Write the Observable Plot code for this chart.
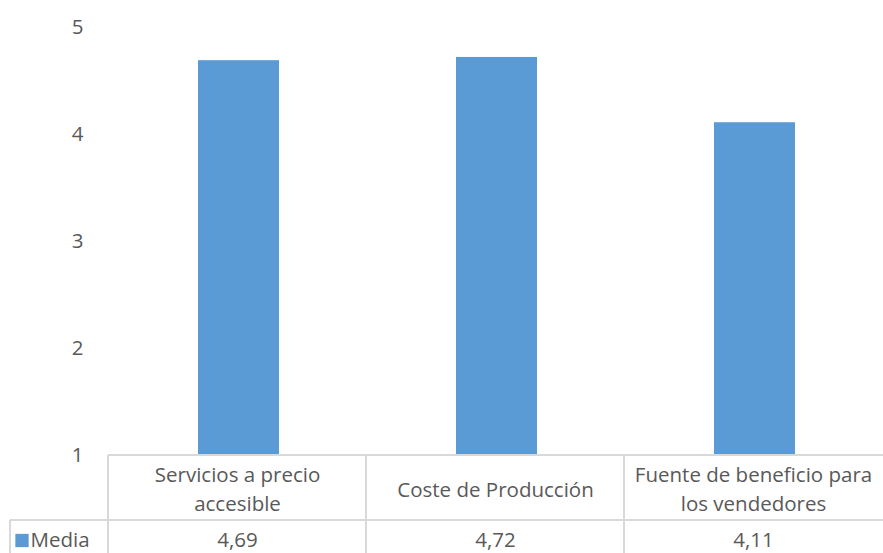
<!DOCTYPE html>
<html>
<head>
<meta charset="utf-8">
<script src="https://cdn.jsdelivr.net/npm/d3@7"></script>
<script src="https://cdn.jsdelivr.net/npm/@observablehq/plot@0.6"></script>
<style>
  html, body { margin: 0; padding: 0; background: #fff; overflow: hidden; }
</style>
</head>
<body>
<div id="chart"></div>
<script>
const categories = ["Servicios a precio accesible", "Coste de Producción", "Fuente de beneficio para los vendedores"];
const tableLabels = ["Servicios a precio\naccesible", "Coste de Producción", "Fuente de beneficio para\nlos vendedores"];
const media = [4.69, 4.72, 4.11];
const valueLabels = ["4,69", "4,72", "4,11"];
const yTicks = [1, 2, 3, 4, 5];
const seriesName = "Media";

const data = categories.map((c, i) => ({cat: c, label: tableLabels[i], value: media[i], valueLabel: valueLabels[i]}));

const W = 883, H = 553;
const blue = "#5B9BD5";
const gridColor = "#D9D9D9";
const textColor = "#595959";
const font = "'Open Sans', Lato, sans-serif";
const fs = 20.5;

const chart = Plot.plot({
  width: W,
  height: H,
  marginLeft: 107,
  marginRight: 0,
  marginTop: 27,
  marginBottom: 98,
  style: {fontFamily: font, fontSize: fs + "px", color: textColor, background: "#fff", overflow: "visible"},
  x: {domain: categories, padding: 0, axis: null},
  y: {domain: [1, 5], axis: null},
  marks: [
    Plot.barY(data, {x: "cat", y1: 1, y2: "value", fill: blue, insetLeft: 90, insetRight: 87}),
    Plot.axisY({ticks: yTicks, tickSize: 0, tickPadding: 24, fill: textColor, fontSize: fs, label: null, tickFormat: d => String(d)}),
    Plot.text(data, {x: "cat", text: "label", frameAnchor: "bottom", lineAnchor: "middle", dy: 32, lineHeight: 1.4, fill: textColor, fontSize: fs}),
    Plot.text(data, {x: "cat", text: "valueLabel", frameAnchor: "bottom", lineAnchor: "middle", dy: 85, fill: textColor, fontSize: fs}),
    Plot.text([seriesName], {text: d => d, frameAnchor: "bottom-left", lineAnchor: "middle", dx: -77, dy: 85, textAnchor: "start", fill: textColor, fontSize: fs}),
    Plot.dot([seriesName], {frameAnchor: "bottom-left", dx: -85.5, dy: 85, symbol: "square", r: 7.5, fill: blue, stroke: "none"})
  ]
});

// Data-table borders, positioned from the Plot scales
const xs = chart.scale("x");
const ys = chart.scale("y");
const svgEl = chart.tagName.toLowerCase() === "svg" ? chart : chart.querySelector("svg");
const g = d3.select(svgEl).append("g").attr("stroke", gridColor).attr("stroke-width", 2).attr("fill", "none");
const tableTop = ys.apply(1);
const rowSep = tableTop + 65;
const left0 = xs.apply(categories[0]);
g.append("line").attr("x1", left0).attr("x2", W).attr("y1", tableTop).attr("y2", tableTop);
g.append("line").attr("x1", 10).attr("x2", W).attr("y1", rowSep).attr("y2", rowSep);
categories.forEach(c => {
  const x0 = xs.apply(c);
  g.append("line").attr("x1", x0).attr("x2", x0).attr("y1", tableTop).attr("y2", H);
});
g.append("line").attr("x1", 10).attr("x2", 10).attr("y1", rowSep).attr("y2", H);

document.getElementById("chart").appendChild(chart);
</script>
</body>
</html>
